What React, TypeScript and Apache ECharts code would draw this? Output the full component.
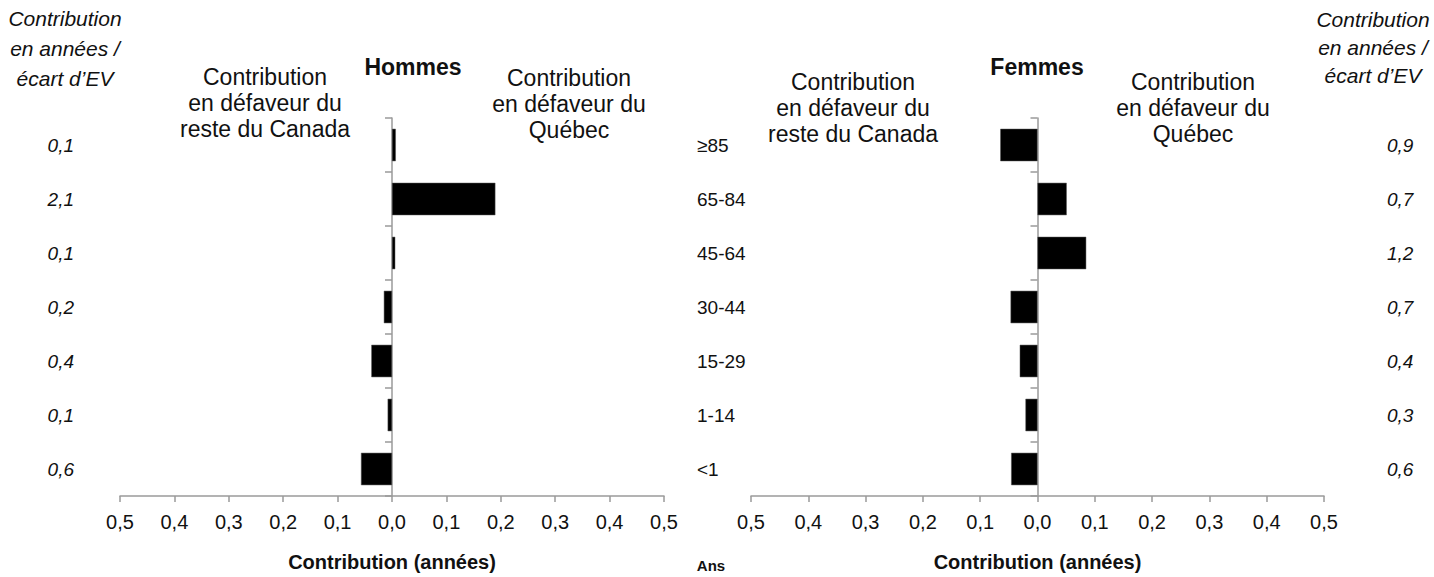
import React, { useEffect, useRef } from "react";
import * as echarts from "echarts";

const ageGroups = ["≥85", "65-84", "45-64", "30-44", "15-29", "1-14", "<1"];
const menContribution = [0.007, 0.19, 0.006, -0.015, -0.038, -0.008, -0.057];
const womenContribution = [-0.065, 0.051, 0.085, -0.047, -0.031, -0.021, -0.046];
const menGapLabels = ["0,1", "2,1", "0,1", "0,2", "0,4", "0,1", "0,6"];
const womenGapLabels = ["0,9", "0,7", "1,2", "0,7", "0,4", "0,3", "0,6"];

const FONT = '"Liberation Sans", Arial, Helvetica, sans-serif';
const AXIS_GREY = "#9a9a9a";

const fmtTick = (v: number) => Math.abs(v).toFixed(1).replace(".", ",");

function valueAxis(gridIndex: number) {
  return {
    type: "value",
    gridIndex,
    min: -0.5,
    max: 0.5,
    interval: 0.1,
    splitLine: { show: false },
    axisLine: { show: true, lineStyle: { color: AXIS_GREY, width: 1.5 } },
    axisTick: { show: true, length: 6, lineStyle: { color: AXIS_GREY, width: 1.5 } },
    axisLabel: { formatter: fmtTick, fontSize: 20, color: "#111", margin: 16, fontFamily: FONT },
    name: "Contribution (années)",
    nameLocation: "middle",
    nameGap: 56,
    nameTextStyle: { fontSize: 20, fontWeight: "bold", color: "#111", fontFamily: FONT },
  };
}

function mainCatAxis(gridIndex: number) {
  return {
    type: "category",
    gridIndex,
    data: ageGroups,
    inverse: true,
    axisLine: { show: true, onZero: true, lineStyle: { color: AXIS_GREY, width: 1.5 } },
    axisTick: { show: true, length: 7, lineStyle: { color: AXIS_GREY, width: 1.5 } },
    axisLabel: { show: false },
  };
}

function labelCatAxis(gridIndex: number, position: string, labels: string[] | null, margin: number, italic: boolean) {
  return {
    type: "category",
    gridIndex,
    data: ageGroups,
    inverse: true,
    position,
    axisLine: { show: false, onZero: false },
    axisTick: { show: false },
    axisLabel: {
      show: true,
      margin,
      fontSize: 19,
      color: "#111",
      fontFamily: FONT,
      fontStyle: italic ? "italic" : "normal",
      align: position === "left" ? "right" : "left",
      formatter: (v: string, i: number) => (labels ? labels[i] : v),
    },
  };
}

function headerText(x: number, y: number, text: string, opts: any = {}) {
  return {
    type: "text",
    x,
    y,
    style: {
      text,
      fill: "#111",
      fontSize: opts.fontSize || 23,
      fontFamily: FONT,
      fontWeight: opts.bold ? "bold" : "normal",
      fontStyle: opts.italic ? "italic" : "normal",
      lineHeight: opts.lineHeight || 26,
      align: "center",
      textAlign: "center",
      verticalAlign: "middle",
      textVerticalAlign: "middle",
    },
  };
}

export default function App() {
  const ref = useRef<HTMLDivElement>(null);

  useEffect(() => {
    document.body.style.margin = "0";
    const chart = echarts.init(ref.current!, null, { renderer: "svg" });
    const option: any = {
      animation: false,
      backgroundColor: "#ffffff",
      textStyle: { fontFamily: FONT },
      grid: [
        { left: 120, right: 770, top: 118, bottom: 79 },
        { left: 751, right: 110, top: 118, bottom: 79 },
      ],
      xAxis: [valueAxis(0), valueAxis(1)],
      yAxis: [
        mainCatAxis(0),
        labelCatAxis(0, "left", menGapLabels, 46, true),
        labelCatAxis(0, "right", null, 33, false),
        mainCatAxis(1),
        labelCatAxis(1, "right", womenGapLabels, 63, true),
      ],
      series: [
        {
          type: "bar",
          xAxisIndex: 0,
          yAxisIndex: 0,
          data: menContribution,
          barCategoryGap: "40%",
          itemStyle: { color: "#000", borderColor: "#555", borderWidth: 0.5 },
        },
        {
          type: "bar",
          xAxisIndex: 1,
          yAxisIndex: 3,
          data: womenContribution,
          barCategoryGap: "40%",
          itemStyle: { color: "#000", borderColor: "#555", borderWidth: 0.5 },
        },
      ],
      graphic: [
        headerText(65, 48, "Contribution\nen années /\nécart d’EV", { italic: true, fontSize: 21, lineHeight: 30 }),
        headerText(265, 103, "Contribution\nen défaveur du\nreste du Canada"),
        headerText(413, 67, "Hommes", { bold: true }),
        headerText(569, 104, "Contribution\nen défaveur du\nQuébec"),
        headerText(853, 108, "Contribution\nen défaveur du\nreste du Canada"),
        headerText(1037, 67, "Femmes", { bold: true }),
        headerText(1193, 108, "Contribution\nen défaveur du\nQuébec"),
        headerText(1373, 47, "Contribution\nen années /\nécart d’EV", { italic: true, fontSize: 21, lineHeight: 28 }),
        headerText(711, 565, "Ans", { bold: true, fontSize: 15 }),
      ],
    };
    chart.setOption(option);
    return () => chart.dispose();
  }, []);

  return <div ref={ref} style={{ width: 1434, height: 577 }} />;
}
